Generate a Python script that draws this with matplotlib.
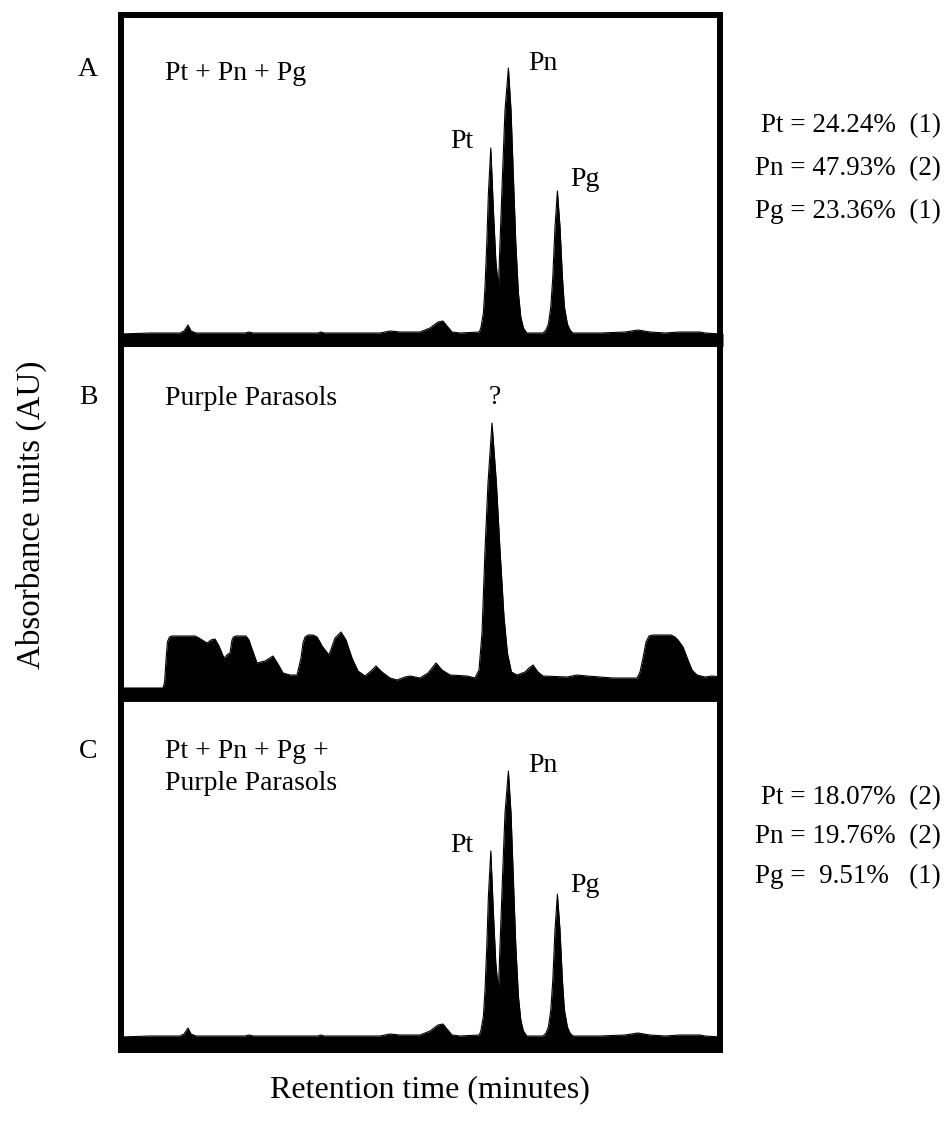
import matplotlib
matplotlib.use("Agg")
import matplotlib.pyplot as plt

plt.rcParams['font.family'] = ['Liberation Serif', 'DejaVu Serif']

# ---- chromatogram traces (retention time in minutes, absorbance in mAU) ----
# standard mixture Pt + Pn + Pg (panel A, repeated run in panel C)
std_time = [0.0, 1.45, 2.95, 3.15, 3.35, 3.5, 3.75, 6.2, 6.4, 6.6, 9.85, 10.0,
            10.15, 12.95, 13.45, 13.95, 14.95, 15.45, 15.85, 16.1, 16.3, 16.55,
            16.95, 17.92, 18.0, 18.12, 18.2, 18.29, 18.37, 18.49, 18.62, 18.74,
            18.87, 18.95, 19.07, 19.2, 19.37, 19.5, 19.62, 19.74, 19.87, 19.99,
            20.12, 20.29, 21.1, 21.25, 21.37, 21.49, 21.59, 21.7, 21.82, 21.95,
            22.07, 22.17, 22.32, 22.45, 22.6, 23.95, 25.2, 25.85, 26.45, 27.2,
            27.95, 28.95, 29.2, 30.0]
std_abs = [0, 1, 1, 3, 9, 3, 1, 1, 2, 1, 1, 2,
           1, 1, 3, 2, 2, 6, 12, 13, 8, 2,
           1, 2, 7, 21, 47, 91, 141, 186, 124, 74,
           46, 91, 157, 224, 266, 224, 157, 91, 41, 17,
           6, 1, 1, 4, 10, 27, 57, 107, 143, 107,
           57, 27, 10, 4, 1, 1, 2, 4, 2, 1,
           2, 2, 1, 0]

# Purple Parasols extract (panel B)
pp_time = [0.0, 2.1, 2.18, 2.25, 2.32, 2.42, 2.55, 3.7, 3.9, 4.3, 4.5, 4.7,
           4.9, 5.15, 5.35, 5.45, 5.55, 5.62, 5.75, 6.25, 6.4, 6.5, 6.8, 7.2,
           7.6, 7.85, 8.1, 8.45, 8.8, 9.0, 9.1, 9.2, 9.35, 9.6, 9.8, 9.95,
           10.05, 10.4, 10.7, 11.0, 11.25, 11.55, 11.85, 12.2, 12.5, 12.75,
           13.05, 13.45, 13.8, 14.2, 14.45, 14.95, 15.35, 15.75, 16.05, 16.45,
           17.3, 17.7, 17.9, 18.05, 18.2, 18.35, 18.55, 18.77, 18.95, 19.15,
           19.32, 19.52, 19.8, 20.2, 20.4, 20.6, 20.85, 21.1, 22.3, 22.8,
           23.3, 23.95, 24.6, 25.8, 25.95, 26.1, 26.25, 26.4, 26.6, 27.5,
           27.7, 27.85, 28.1, 28.35, 28.55, 28.8, 29.2, 29.55, 30.0]
pp_abs = [0, 0, 6, 28, 46, 51, 52, 52, 50, 45, 48, 49,
          42, 30, 34, 35, 48, 51, 52, 52, 48, 42, 25, 27,
          32, 24, 15, 13, 13, 30, 45, 51, 53, 53, 51, 46,
          42, 33, 50, 56, 48, 30, 17, 12, 17, 22,
          16, 10, 8, 11, 12, 10, 15, 25, 18, 13,
          12, 10, 18, 55, 138, 205, 265, 205, 138, 71,
          35, 16, 13, 16, 20, 23, 16, 12, 11, 13,
          12, 11, 10, 10, 16, 30, 46, 52, 53, 53,
          51, 48, 41, 28, 18, 13, 11, 12, 11]

mix_time = std_time
mix_abs = list(std_abs)

results_a = ['Pt = 24.24%  (1)', 'Pn = 47.93%  (2)', 'Pg = 23.36%  (1)']
results_c = ['Pt = 18.07%  (2)', 'Pn = 19.76%  (2)', 'Pg =  9.51%   (1)']

W, H = 953, 1133
FS = 20


def fx(px):
    return px / W


def fy(py):
    return 1 - py / H


def make_panel(fig, top, bottom, ylo, yhi, bottom_lw, show_top):
    ax = fig.add_axes([fx(121), fy(bottom), fx(720) - fx(121), (bottom - top) / H])
    ax.patch.set_visible(False)
    ax.set_xlim(0, 29.95)
    ax.set_ylim(ylo, yhi)
    ax.set_xticks([])
    ax.set_yticks([])
    for side in ['left', 'right', 'top']:
        ax.spines[side].set_linewidth(4.3)
        ax.spines[side].set_color('black')
    # thick base band flush with the outer frame
    ax.spines['bottom'].set_linewidth(bottom_lw)
    ax.spines['bottom'].set_capstyle('butt')
    ax.spines['bottom'].set_bounds(-0.15, 30.1)
    ax.spines['top'].set_visible(show_top)
    return ax


def draw_trace(ax, t, a):
    ax.fill_between(t, a, -30, color='black', lw=0)
    ax.plot(t, a, color='black', lw=0.8)


fig = plt.figure(figsize=(W / 100, H / 100), dpi=100)

# panel A
ax_a = make_panel(fig, 14.5, 340.5, -6.5, 319.5, 9.4, True)
draw_trace(ax_a, std_time, std_abs)
ax_a.text(17.05, 192, 'Pt', fontsize=FS, ha='center', va='center')
ax_a.text(21.1, 271, 'Pn', fontsize=FS, ha='center', va='center')
ax_a.text(23.2, 155, 'Pg', fontsize=FS, ha='center', va='center')

# panel B
ax_b = make_panel(fig, 340.5, 695, -7, 347.5, 10.0, False)
draw_trace(ax_b, pp_time, pp_abs)
ax_b.text(18.7, 290, '?', fontsize=FS, ha='center', va='center')

# panel C
ax_c = make_panel(fig, 695, 1045, -8, 342, 11.5, False)
draw_trace(ax_c, mix_time, mix_abs)
ax_c.text(17.05, 191, 'Pt', fontsize=FS, ha='center', va='center')
ax_c.text(21.1, 272, 'Pn', fontsize=FS, ha='center', va='center')
ax_c.text(23.2, 151, 'Pg', fontsize=FS, ha='center', va='center')

# sample titles inside the panels
fig.text(fx(165), fy(74), 'Pt + Pn + Pg', fontsize=FS, ha='left', va='center')
fig.text(fx(165), fy(399), 'Purple Parasols', fontsize=FS, ha='left', va='center')
fig.text(fx(165), fy(751), 'Pt + Pn + Pg +', fontsize=FS, ha='left', va='center')
fig.text(fx(165), fy(784), 'Purple Parasols', fontsize=FS, ha='left', va='center')

# panel letters
for letter, py in zip(['A', 'B', 'C'], [70, 398, 751]):
    fig.text(fx(88), fy(py), letter, fontsize=FS, ha='center', va='center')

# quantitation results
for txt, py in zip(results_a, [126, 169, 211]):
    fig.text(fx(941), fy(py), txt, fontsize=19.5, ha='right', va='center')
for txt, py in zip(results_c, [798, 837, 876]):
    fig.text(fx(941), fy(py), txt, fontsize=19.5, ha='right', va='center')

# axis labels
fig.text(fx(31), fy(515), 'Absorbance units (AU)', fontsize=23.8, rotation=90,
         ha='center', va='center')
fig.text(fx(430), fy(1090), 'Retention time (minutes)', fontsize=23,
         ha='center', va='center')

fig.savefig('out.png', dpi=100)
